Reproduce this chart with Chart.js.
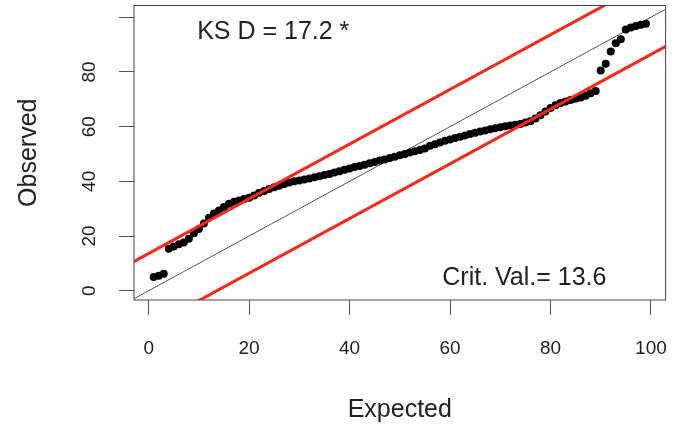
<!DOCTYPE html>
<html>
<head>
<meta charset="utf-8">
<script src="https://cdn.jsdelivr.net/npm/chart.js@4/dist/chart.umd.min.js"></script>
<style>
html,body{margin:0;padding:0;background:#fff;}
#wrap{width:673px;height:425px;}
</style>
</head>
<body>
<div id="wrap"><canvas id="c" width="673" height="425"></canvas></div>
<script>
// ---- data ----
const expected = [1,2,3,4,5,6,7,8,9,10,11,12,13,14,15,16,17,18,19,20,21,22,23,24,25,26,27,28,29,30,31,32,33,34,35,36,37,38,39,40,41,42,43,44,45,46,47,48,49,50,51,52,53,54,55,56,57,58,59,60,61,62,63,64,65,66,67,68,69,70,71,72,73,74,75,76,77,78,79,80,81,82,83,84,85,86,87,88,89,90,91,92,93,94,95,96,97,98,99];
const observed = [5.0,5.5,6.2,15.3,16.2,17.0,17.6,19.0,21.0,22.6,24.6,26.7,28.2,29.3,30.6,31.8,32.5,33.0,33.5,34.0,34.8,35.8,36.5,37.2,37.8,38.4,39.0,39.6,40.0,40.3,40.7,41.0,41.5,41.9,42.3,42.7,43.2,43.7,44.2,44.7,45.2,45.6,46.1,46.6,47.1,47.6,48.0,48.5,49.0,49.5,50.0,50.5,51.0,51.5,52.0,53.0,53.6,54.2,54.8,55.3,55.8,56.3,56.8,57.3,57.8,58.2,58.6,59.0,59.4,59.8,60.1,60.4,60.7,61.0,61.5,62.0,63.0,64.2,65.5,66.8,67.8,68.6,69.2,69.7,70.2,70.7,71.3,72.2,73.0,80.5,83.0,87.5,90.5,92.0,95.5,96.3,96.8,97.3,97.6];
const refLineX = [-5, 110];
const identityY = [-5, 110];
const upperBandY = [8.6, 123.6];   // y = x + 13.6
const lowerBandY = [-18.6, 96.4];  // y = x - 13.6
const xTicks = [0,20,40,60,80,100];
const xTickLabels = ['0','20','40','60','80','100'];
const yTicks = [0,20,40,60,80,100];
const yTickLabels = ['0','20','40','60','80',''];
const ksText = 'KS D = 17.2 *';
const ksPos = [24.8, 94.5];
const critText = 'Crit. Val.= 13.6';
const critPos = [74.8, 4.6];
const xTitle = 'Expected';
const yTitle = 'Observed';

const FAM = '"Liberation Sans", Arial, Helvetica, sans-serif';
const TXT = '#222';
const RED = 'rgb(250,38,22)';

const toXY = (xs, ys) => xs.map((x, i) => ({x, y: ys[i]}));

const rPlot = {
  id: 'rPlot',
  afterDraw(chart) {
    const {ctx, chartArea: a, scales: {x, y}} = chart;
    ctx.save();
    ctx.strokeStyle = '#444';
    ctx.lineWidth = 1;
    ctx.strokeRect(a.left, a.top, a.right - a.left, a.bottom - a.top);
    ctx.fillStyle = TXT;
    ctx.font = '19px ' + FAM;
    ctx.textAlign = 'center';
    ctx.textBaseline = 'middle';
    yTicks.forEach((v, i) => {
      const lab = yTickLabels[i];
      if (!lab) return;
      ctx.save();
      ctx.translate(90, y.getPixelForValue(v));
      ctx.rotate(-Math.PI / 2);
      ctx.fillText(lab, 0, 0);
      ctx.restore();
    });
    ctx.font = '25px ' + FAM;
    ctx.fillText(ksText, x.getPixelForValue(ksPos[0]), y.getPixelForValue(ksPos[1]));
    ctx.fillText(critText, x.getPixelForValue(critPos[0]), y.getPixelForValue(critPos[1]));
    ctx.restore();
  }
};

new Chart(document.getElementById('c'), {
  type: 'scatter',
  data: {
    datasets: [
      { type: 'line', data: toXY(refLineX, upperBandY), borderColor: RED, borderWidth: 3, pointRadius: 0, fill: false },
      { type: 'line', data: toXY(refLineX, lowerBandY), borderColor: RED, borderWidth: 3, pointRadius: 0, fill: false },
      { data: toXY(expected, observed), backgroundColor: '#000', borderColor: '#000', borderWidth: 0, pointRadius: 4 },
      { type: 'line', data: toXY(refLineX, identityY), borderColor: '#555', borderWidth: 1, pointRadius: 0, fill: false }
    ]
  },
  options: {
    responsive: false,
    animation: false,
    devicePixelRatio: 1,
    layout: { padding: { top: 5.5, right: 7.4, left: 0, bottom: 0 } },
    plugins: { legend: { display: false }, tooltip: { enabled: false } },
    scales: {
      x: {
        type: 'linear', min: -2.92, max: 102.92,
        afterBuildTicks: s => { s.ticks = xTicks.map(v => ({ value: v })); },
        afterFit: s => { s.height = 125; s.paddingLeft = 0; s.paddingRight = 0; },
        grid: { drawOnChartArea: false, drawTicks: true, tickLength: 15, color: '#555', lineWidth: 1 },
        border: { display: false },
        ticks: { font: { family: FAM, size: 19 }, color: TXT, padding: 22.6, maxRotation: 0, autoSkip: false,
                 callback: (v, i) => xTickLabels[i] },
        title: { display: true, text: xTitle, color: TXT, font: { family: FAM, size: 25, lineHeight: 1.2 }, padding: { top: 0, bottom: 0 } }
      },
      y: {
        type: 'linear', min: -3.4, max: 104.3,
        afterBuildTicks: s => { s.ticks = yTicks.map(v => ({ value: v })); },
        afterFit: s => { s.width = 134; s.paddingTop = 0; s.paddingBottom = 0; },
        grid: { drawOnChartArea: false, drawTicks: true, tickLength: 15, color: '#555', lineWidth: 1 },
        border: { display: false },
        ticks: { display: false },
        title: { display: true, text: yTitle, color: TXT, font: { family: FAM, size: 25, lineHeight: 1.2 }, padding: { top: 14, bottom: 0 } }
      }
    }
  },
  plugins: [rPlot]
});
</script>
</body>
</html>
